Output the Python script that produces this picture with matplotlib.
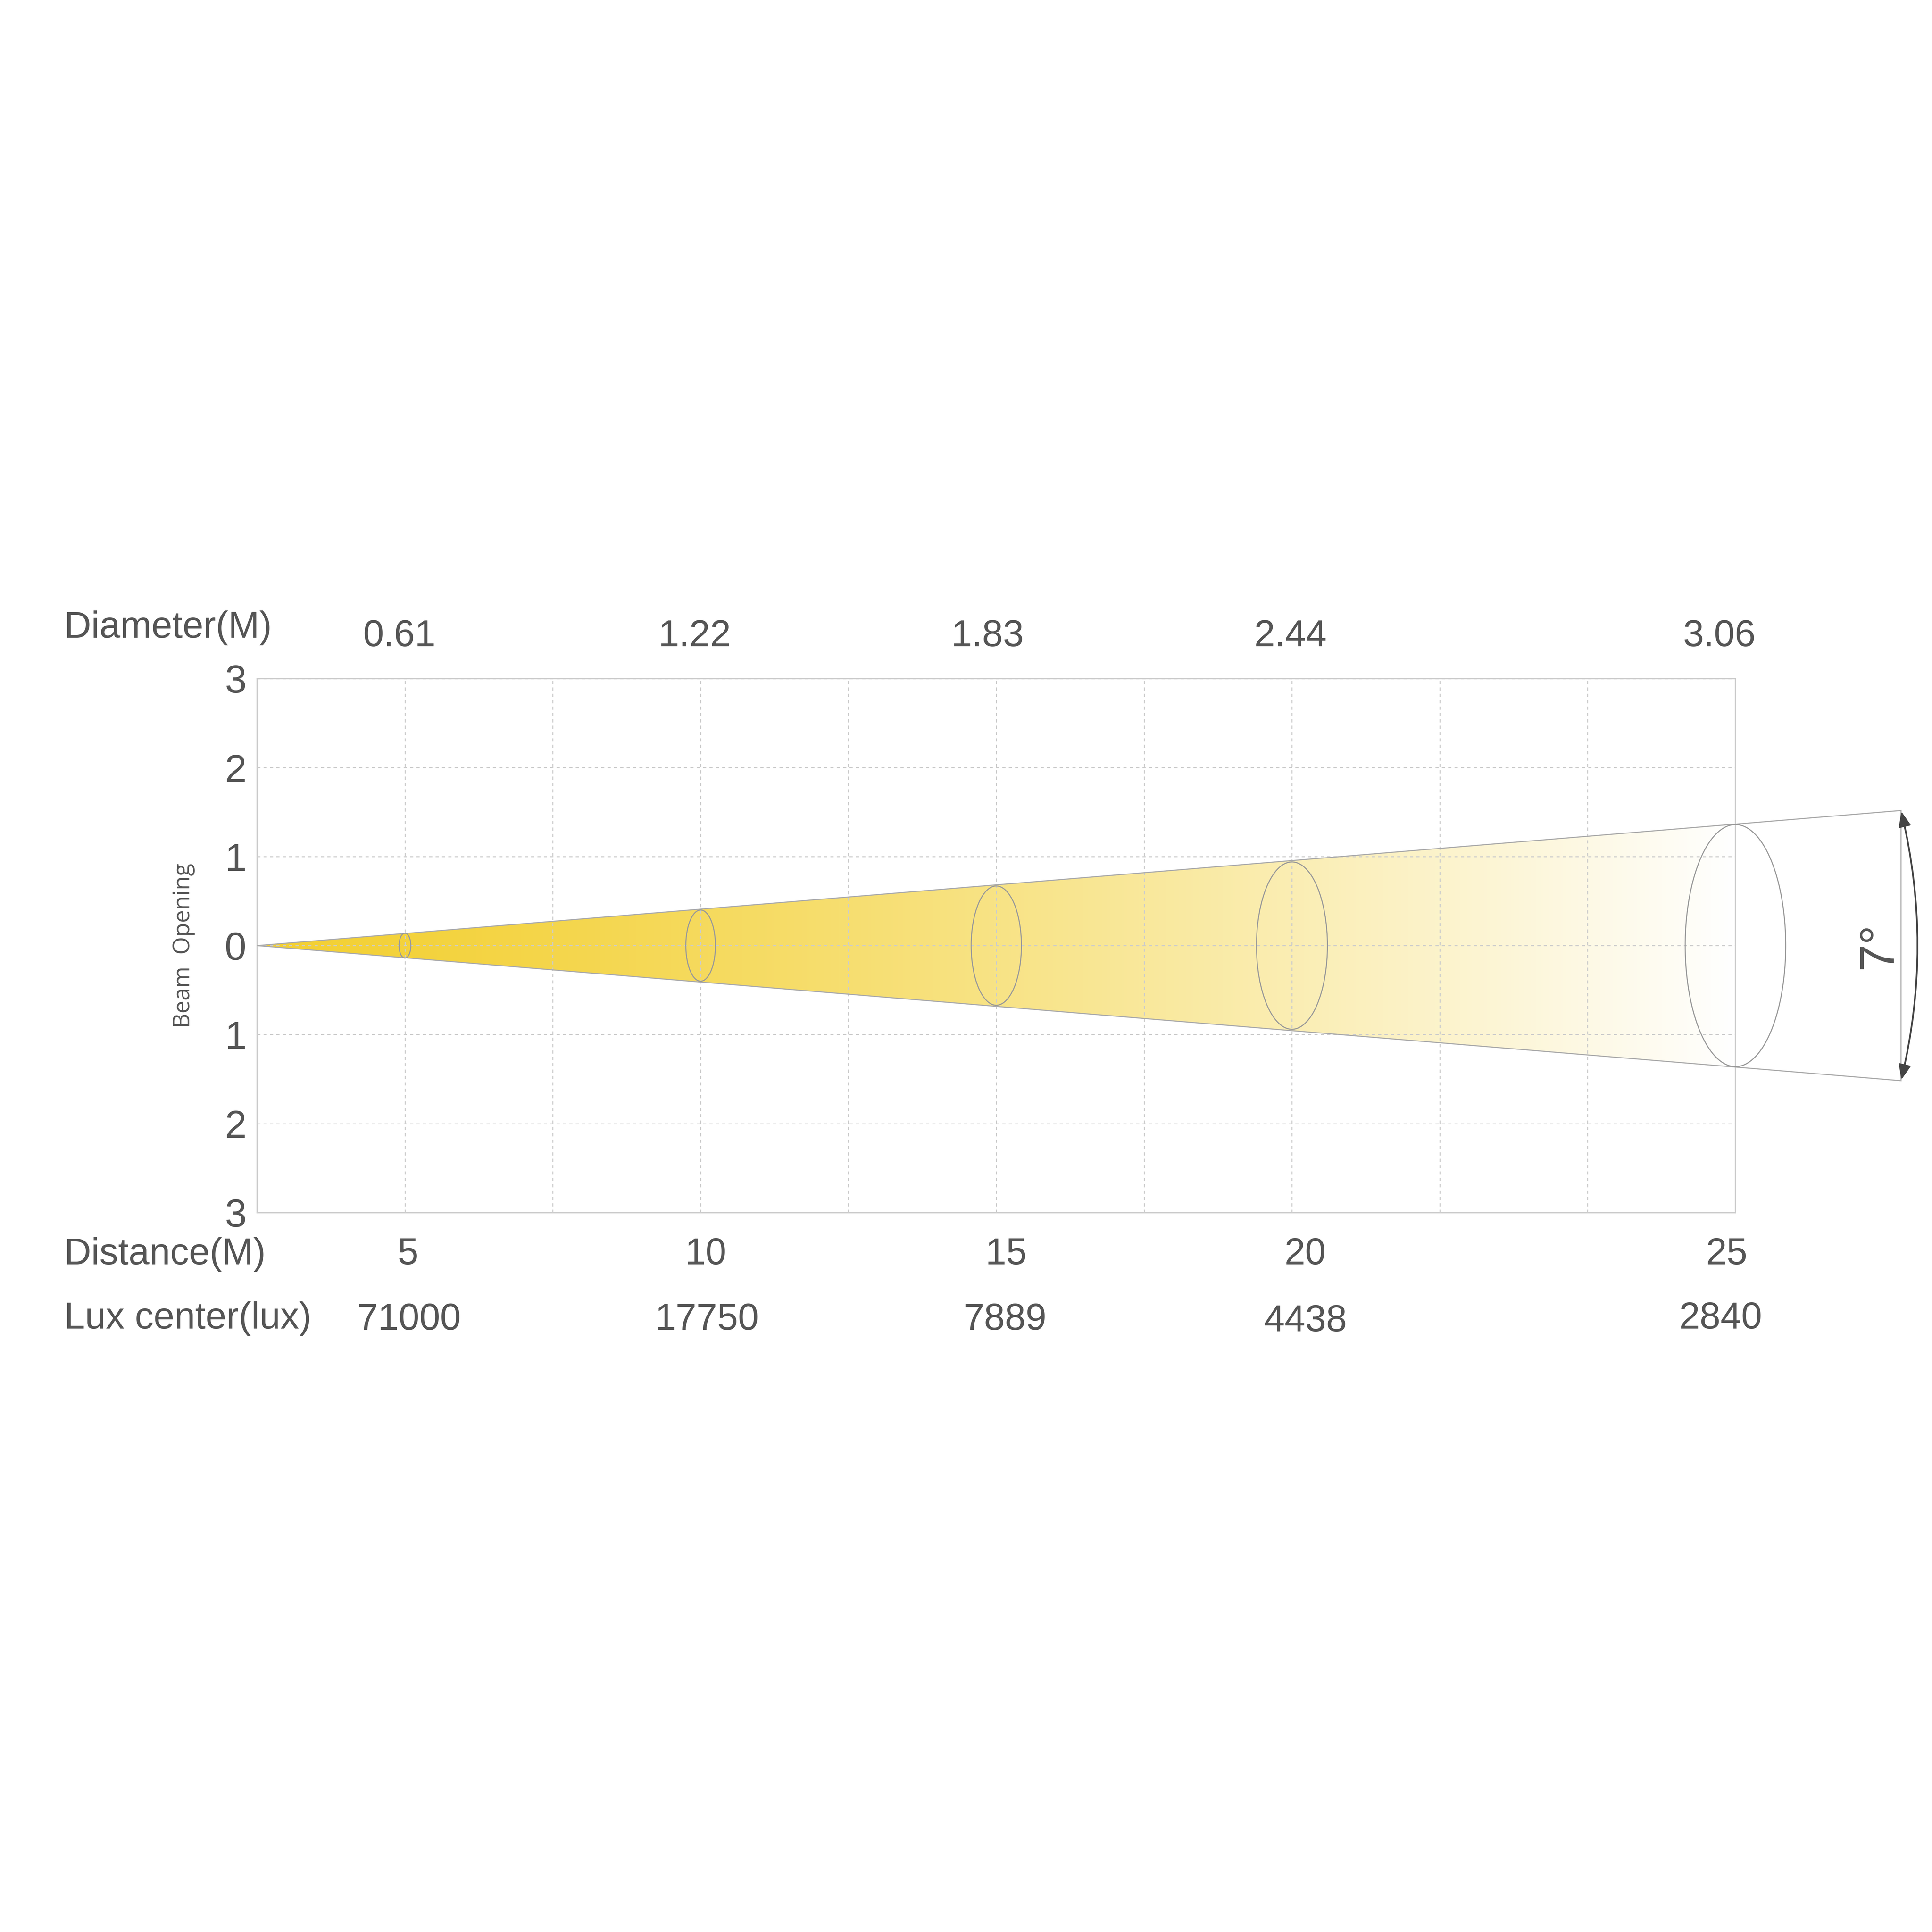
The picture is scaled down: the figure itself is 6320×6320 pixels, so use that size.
import matplotlib
matplotlib.use("Agg")
import matplotlib.pyplot as plt
import numpy as np
from matplotlib.patches import Ellipse, Polygon, FancyArrowPatch

plt.rcParams['font.family'] = ['Liberation Sans', 'DejaVu Sans']

# data
diameters = ["0.61", "1.22", "1.83", "2.44", "3.06"]
distances = ["5", "10", "15", "20", "25"]
lux = ["71000", "17750", "7889", "4438", "2840"]
ring_pos = [1, 3, 5, 7, 10]           # axis position of each ring
ring_half_h = [0.14, 0.40, 0.67, 0.94, 1.36]
ring_half_w = [0.04, 0.10, 0.17, 0.24, 0.34]
y_ticks = [-3, -2, -1, 0, 1, 2, 3]
y_labels = ["3", "2", "1", "0", "1", "2", "3"]
beam_angle = "7°"

S = 1563.0
def fx(x): return x / S
def fy(y): return 1 - y / S

txt = '#555555'
fig = plt.figure(figsize=(63.2, 63.2), dpi=100)
ax = fig.add_axes([fx(208), fy(981), fx(1404) - fx(208), fy(549) - fy(981)])
ax.set_xlim(0, 10)
ax.set_ylim(-3, 3)
ax.set_xticks(range(1, 11))
ax.set_xticklabels([])
ax.set_yticks(y_ticks)
ax.set_yticklabels(y_labels, fontsize=92, color=txt)
ax.tick_params(length=0, pad=25)
ax.grid(True, color='#cccccc', linestyle=(0, (3, 3)), linewidth=2.5)
for s in ax.spines.values():
    s.set_color('#cccccc')
    s.set_linewidth(3)
ax.set_ylabel("Beam  Opening", fontsize=54, color=txt, family=['Open Sans', 'DejaVu Sans'], labelpad=70)

slope = 0.1365
xend = 11.12
# gradient
xs = np.linspace(0, 10, 600)
t = xs / 10
c0 = np.array([243, 208, 50]) / 255
cols = c0[None, :] * (1 - t[:, None] ** 1.3) + np.ones(3)[None, :] * (t[:, None] ** 1.3)
img = np.tile(cols[None, :, :], (2, 1, 1))
im = ax.imshow(img, extent=[0, 10, -3, 3], aspect='auto', zorder=1)
cone = Polygon([[0, 0], [xend, slope * xend], [xend, -slope * xend]], closed=True,
               facecolor='none', edgecolor='#aaaaaa', linewidth=2.5, zorder=3, clip_on=False)
ax.add_patch(cone)
clipc = Polygon([[0, 0], [xend, slope * xend], [xend, -slope * xend]], closed=True,
                transform=ax.transData, visible=False)
ax.add_patch(clipc)
im.set_clip_path(clipc)

for p, hh, hw in zip(ring_pos, ring_half_h, ring_half_w):
    ax.add_patch(Ellipse((p, 0), 2 * hw, 2 * hh, facecolor='none', edgecolor='#999999',
                         linewidth=2.5, zorder=4, clip_on=False))

arc = FancyArrowPatch((xend, slope * xend), (xend, -slope * xend), connectionstyle="arc3,rad=-0.12",
                      arrowstyle='<|-|>,head_length=30,head_width=12', color='#444444',
                      linewidth=4, clip_on=False, zorder=5)
ax.add_patch(arc)
fig.text(fx(1520), fy(765), beam_angle, fontsize=115, color=txt, rotation=90,
         ha='center', va='center')

fs = 88
fig.text(fx(52), fy(508), "Diameter(M)", fontsize=fs, color=txt, va='center')
fig.text(fx(52), fy(1015), "Distance(M)", fontsize=fs, color=txt, va='center')
fig.text(fx(52), fy(1067), "Lux center(lux)", fontsize=fs, color=txt, va='center')
dia_x = [323, 562, 799, 1044, 1391]
dist_x = [330, 571, 814, 1056, 1397]
lux_x = [331, 572, 813, 1056, 1392]
lux_y = [1068, 1068, 1068, 1069, 1067]
for i in range(5):
    fig.text(fx(dia_x[i]), fy(515), diameters[i], fontsize=fs, color=txt, ha='center', va='center')
    fig.text(fx(dist_x[i]), fy(1015), distances[i], fontsize=fs, color=txt, ha='center', va='center')
    fig.text(fx(lux_x[i]), fy(lux_y[i]), lux[i], fontsize=fs, color=txt, ha='center', va='center')

fig.savefig("out.png", dpi=100, facecolor='white')
